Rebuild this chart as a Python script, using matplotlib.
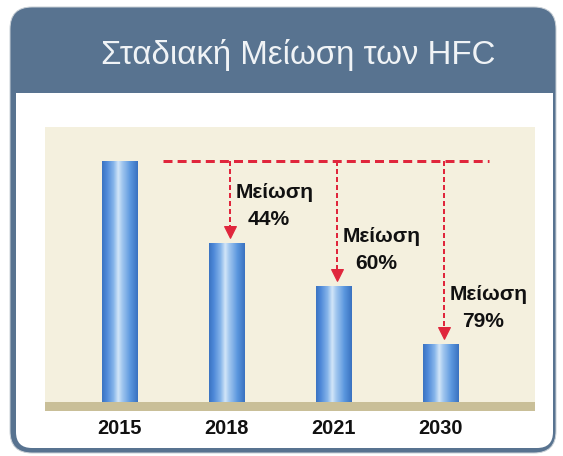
import numpy as np
import matplotlib
matplotlib.use("Agg")
from matplotlib import pyplot as plt
from matplotlib.patches import FancyBboxPatch, Rectangle
from matplotlib.colors import LinearSegmentedColormap

# chart data (bar heights, 2015 = 100)
years = ["2015", "2018", "2021", "2030"]
heights = [100, 66, 48, 24]
cuts = [None, "44%", "60%", "79%"]
title = "Σταδιακή Μείωση των HFC"
cut_word = "Μείωση"

W, H = 563, 456
DPI = 72  # 1 pt == 1 px
RED = "#e0263c"
HEADER = "#587390"
BEIGE = "#f4f0de"
BAND = "#c9bf98"

fig = plt.figure(figsize=(W / DPI, H / DPI), dpi=DPI)
fig.patch.set_facecolor("white")

# background card, drawn in pixel coordinates
bg = fig.add_axes([0, 0, 1, 1])
bg.set_xlim(0, W)
bg.set_ylim(H, 0)
bg.axis("off")
bg.add_patch(FancyBboxPatch((10, 7), 546, 446, boxstyle="round,pad=0,rounding_size=22",
                            fc=HEADER, ec="#c9d0d6", lw=1))
bg.add_patch(FancyBboxPatch((16, 70), 537, 378, boxstyle="round,pad=0,rounding_size=16",
                            fc="white", ec="none"))
bg.add_patch(Rectangle((16, 60), 537, 33, fc=HEADER, ec="none"))
bg.text(298, 55, title, ha="center", va="center", fontsize=33, color="#f0f3f6",
        family=["Liberation Sans", "DejaVu Sans"])

# chart area
L, R, T, B = 45, 535, 127, 411
ax = fig.add_axes([L / W, 1 - B / H, (R - L) / W, (B - T) / H])
ax.set_facecolor(BEIGE)
for s in ax.spines.values():
    s.set_visible(False)

xs = np.arange(len(years))
ax.axhspan(-3.73, 0, color=BAND, lw=0, zorder=1)

bar_cmap = LinearSegmentedColormap.from_list("barblue", [
    (0.0, "#3b74c2"), (0.12, "#4d88d8"), (0.32, "#86b5ea"), (0.45, "#d2e5f8"),
    (0.57, "#a0c6ef"), (0.80, "#5a96de"), (1.0, "#3a72c0")])
bars = ax.bar(xs, heights, width=0.336, color="none", zorder=2)
grad = np.linspace(0, 1, 64).reshape(1, -1)
for b in bars:
    x0, y0 = b.get_x(), b.get_y()
    im = ax.imshow(grad, cmap=bar_cmap, aspect="auto", zorder=2,
                   extent=(x0, x0 + b.get_width(), y0, y0 + b.get_height()))
    im.set_clip_path(b)
ax.set_xlim(-0.70, 3.88)
ax.set_ylim(-3.73, 114.1)

# reference line at the 2015 level and the reduction arrows
top = heights[0]
ax.plot([0.40, 3.45], [top, top], color=RED, lw=3, dashes=(3, 1.7), zorder=3)
for i in range(1, len(years)):
    xa = xs[i] + 0.025
    tip = heights[i] + 2
    ax.plot([xa, xa], [top, tip + 4], color=RED, lw=2, dashes=(2.5, 1.5), zorder=3)
    ax.plot([xa], [tip + 2.6], marker="v", ms=12, color=RED, mec=RED, zorder=4)
    ax.annotate(cut_word, (xs[i], heights[i]), xytext=(48, 50), textcoords="offset points",
                ha="center", va="center", fontsize=21, fontweight="bold", color="#111111",
                family=["Liberation Sans", "DejaVu Sans"])
    ax.annotate(cuts[i], (xs[i], heights[i]), xytext=(42, 23), textcoords="offset points",
                ha="center", va="center", fontsize=21, fontweight="bold", color="#111111",
                family=["Liberation Sans", "DejaVu Sans"])

ax.set_yticks([])
ax.set_xticks(xs, years)
ax.tick_params(axis="x", length=0, pad=8)
for t in ax.get_xticklabels():
    t.set_fontsize(20)
    t.set_fontweight("bold")
    t.set_color("#111111")
    t.set_family(["Liberation Sans", "DejaVu Sans"])

fig.savefig("out.png", dpi=DPI)
